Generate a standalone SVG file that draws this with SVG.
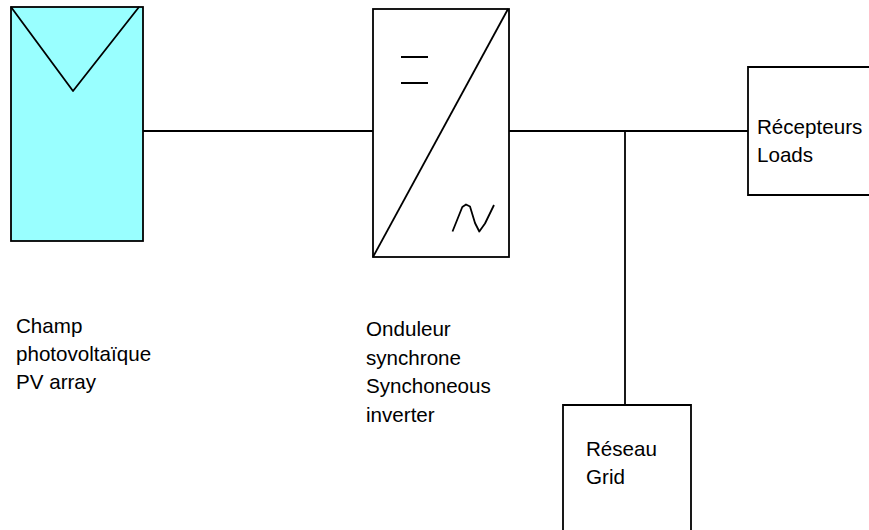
<svg xmlns="http://www.w3.org/2000/svg" width="869" height="530" viewBox="0 0 869 530">
<style>
.s{fill:none;stroke:#000;stroke-width:1.8;stroke-linejoin:round}
.b{fill:#fff;stroke:#000;stroke-width:1.8}
text{font-family:"Liberation Sans",Arial,sans-serif;font-size:20.6px;fill:#000}
</style>
<rect width="869" height="530" fill="#fff"/>
<g id="connectors">
<path class="s" d="M143 131H373"/>
<path class="s" d="M509 131H748"/>
<path class="s" d="M625 131V405"/>
</g>
<g id="pv-array">
<rect x="11" y="7" width="132" height="234" fill="#99ffff" stroke="#000" stroke-width="1.8"/>
<path class="s" d="M11 7L73 91L139 7"/>
<text x="16" y="333">Champ</text>
<text x="16" y="361">photovoltaïque</text>
<text x="16" y="389">PV array</text>
</g>
<g id="inverter">
<rect class="b" x="373" y="9" width="136" height="248"/>
<path class="s" d="M373 257L508 9"/>
<path class="s" d="M401 57H428M401 83H428"/>
<path class="s" d="M452.5 231.5L462.3 207L466 204.5L470 206.5L475 223L479.3 231.5L485 223.5L494 205"/>
<text x="366" y="336">Onduleur</text>
<text x="366" y="365">synchrone</text>
<text x="366" y="393">Synchoneous</text>
<text x="366" y="422">inverter</text>
</g>
<g id="loads">
<path class="b" d="M869 67H748V195H869"/>
<text x="757" y="134">Récepteurs</text>
<text x="757" y="162">Loads</text>
</g>
<g id="grid">
<path class="b" d="M563 530V405H691V530"/>
<text x="586" y="456">Réseau</text>
<text x="586" y="484">Grid</text>
</g>
</svg>
